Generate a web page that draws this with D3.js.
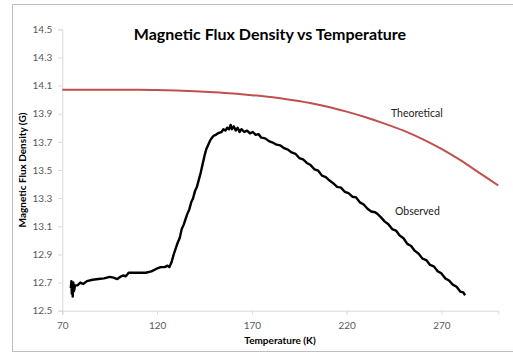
<!DOCTYPE html>
<html>
<head>
<meta charset="utf-8">
<script src="https://cdn.jsdelivr.net/npm/d3@7"></script>
<style>
  body { margin: 0; background: #fff; }
  svg text { font-family: Lato, "Open Sans", sans-serif; }
</style>
</head>
<body>
<svg width="513" height="354"></svg>
<script>
// ---- data ----
var xTicks = [70, 120, 170, 220, 270];
var yTicks = [12.5, 12.7, 12.9, 13.1, 13.3, 13.5, 13.7, 13.9, 14.1, 14.3, 14.5];

var theoT = [70, 80, 90, 100, 110, 120, 130, 140, 150, 160, 170, 180, 190, 200, 210, 220, 230, 240, 250, 260, 270, 280, 290, 300];
var theoB = [14.07, 14.07, 14.07, 14.07, 14.07, 14.068, 14.065, 14.06, 14.053, 14.044, 14.032, 14.018, 14.0, 13.978, 13.95, 13.915, 13.875, 13.83, 13.78, 13.72, 13.65, 13.57, 13.48, 13.39];

var obsT = [74.5, 74.8, 75, 75.3, 75.5, 75.8, 76.2, 76.7, 78, 79.5, 81, 83, 86, 89, 92, 95, 97, 99, 100.5, 102, 103.5, 105, 108, 111, 114, 117, 120, 122, 124, 125.5, 126.5, 127.5,
  129, 130.5, 132, 133, 134, 135, 136, 137, 138, 139, 140, 141, 142, 143, 144, 145, 146, 147, 148, 149, 150, 151, 152, 153, 154, 155, 156, 157, 158, 158.8, 159.5, 160.5,
  161.5, 162.5, 163.5, 164.5, 166, 167.5, 169, 170.5, 172, 173.5, 175, 177, 179, 181, 183, 185, 187, 189, 191, 193, 195, 197, 199, 201, 203, 205, 207, 209, 211, 213,
  215, 217, 219, 221, 223, 225, 227, 229, 231, 233, 235, 236.5, 238, 240, 242, 244, 246, 248, 250, 252, 254, 256, 258, 260, 262, 264, 266, 268, 270, 272, 274, 276,
  278, 280, 281.5, 282.5];
var obsB = [12.66, 12.71, 12.62, 12.69, 12.6, 12.7, 12.64, 12.68, 12.68, 12.7, 12.69, 12.71, 12.72, 12.725, 12.73, 12.74, 12.735, 12.725, 12.74, 12.75, 12.745, 12.77, 12.77, 12.77, 12.77, 12.78, 12.8, 12.81, 12.81, 12.82, 12.81, 12.84,
  12.91, 12.97, 13.02, 13.08, 13.11, 13.15, 13.19, 13.22, 13.27, 13.3, 13.35, 13.38, 13.43, 13.48, 13.54, 13.6, 13.65, 13.68, 13.71, 13.73, 13.745, 13.75, 13.76, 13.765, 13.77, 13.79, 13.78, 13.8, 13.79, 13.82, 13.79, 13.81,
  13.78, 13.8, 13.77, 13.79, 13.77, 13.78, 13.76, 13.77, 13.75, 13.755, 13.73, 13.725, 13.705, 13.695, 13.68, 13.675, 13.655, 13.645, 13.625, 13.615, 13.585, 13.575, 13.55, 13.535, 13.505, 13.495, 13.46, 13.45, 13.425, 13.405,
  13.38, 13.375, 13.345, 13.335, 13.31, 13.305, 13.27, 13.255, 13.225, 13.205, 13.2, 13.185, 13.165, 13.135, 13.115, 13.08, 13.07, 13.035, 13.015, 12.975, 12.96, 12.925, 12.905, 12.87, 12.86, 12.825, 12.815, 12.78, 12.765, 12.73, 12.715, 12.685,
  12.67, 12.635, 12.63, 12.61];

var svg = d3.select("svg");

// outer chart border
svg.append("rect")
  .attr("x", 12.5).attr("y", 4.5)
  .attr("width", 520).attr("height", 347)
  .attr("fill", "none").attr("stroke", "#bfbfbf");

var x = d3.scaleLinear().domain([70, 300]).range([62.3, 498.3]);
var y = d3.scaleLinear().domain([12.5, 14.5]).range([310.7, 29.3]);

// axes
var xAxis = svg.append("g")
  .attr("transform", "translate(0," + y(12.5) + ")")
  .call(d3.axisBottom(x).tickValues(xTicks).tickSize(4).tickPadding(7).tickFormat(d3.format("d")));
var yAxis = svg.append("g")
  .attr("transform", "translate(" + x(70) + ",0)")
  .call(d3.axisLeft(y).tickValues(yTicks).tickSize(4).tickPadding(6).tickFormat(d3.format(".1f")));

[xAxis, yAxis].forEach(function(a) {
  a.select(".domain").attr("stroke", "#d9d9d9");
  a.selectAll(".tick line").attr("stroke", "#d9d9d9");
  a.selectAll(".tick text").attr("fill", "#595959").style("font-size", "10px");
});

var line = d3.line()
  .x(function(d) { return x(d[0]); })
  .y(function(d) { return y(d[1]); });

var theo = theoT.map(function(t, i) { return [t, theoB[i]]; });
var obs = obsT.map(function(t, i) { return [t, obsB[i]]; });

svg.append("path")
  .datum(theo)
  .attr("d", line.curve(d3.curveMonotoneX))
  .attr("fill", "none")
  .attr("stroke", "#c0504d")
  .attr("stroke-width", 2);

svg.append("path")
  .datum(obs)
  .attr("d", line.curve(d3.curveLinear))
  .attr("fill", "none")
  .attr("stroke", "#000")
  .attr("stroke-width", 2.4)
  .attr("stroke-linejoin", "round");

// labels
svg.append("text")
  .attr("x", 270).attr("y", 40)
  .attr("text-anchor", "middle")
  .style("font-size", "16px").style("font-weight", "bold")
  .text("Magnetic Flux Density vs Temperature");

svg.append("text")
  .attr("x", 280).attr("y", 344)
  .attr("text-anchor", "middle")
  .style("font-size", "10px").style("font-weight", "bold")
  .text("Temperature (K)");

svg.append("text")
  .attr("transform", "translate(26," + 170 + ") rotate(-90)")
  .attr("text-anchor", "middle")
  .style("font-size", "10px").style("font-weight", "bold")
  .text("Magnetic Flux Density (G)");

svg.append("text")
  .attr("x", 391).attr("y", 117)
  .style("font-size", "10.5px").attr("fill", "#222")
  .text("Theoretical");

svg.append("text")
  .attr("x", 395).attr("y", 215)
  .style("font-size", "10.5px").attr("fill", "#222")
  .text("Observed");
</script>
</body>
</html>
